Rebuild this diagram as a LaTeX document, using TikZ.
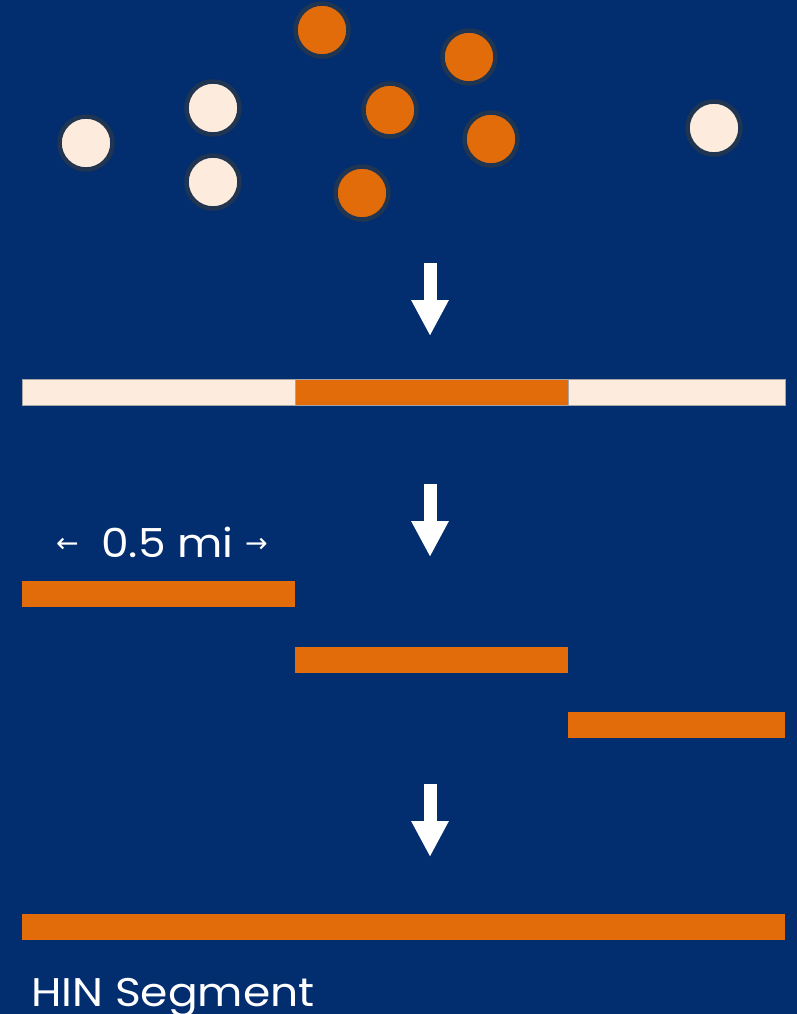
\documentclass[tikz,border=0pt]{standalone}
\usepackage{fontspec}
\setmainfont{Poppins}[FakeStretch=1.1]
\newfontfamily\arrowfont{DejaVu Sans}
\usepackage{xcolor}
\usetikzlibrary{arrows.meta}
\definecolor{bg-blue}{HTML}{022D6F}
\definecolor{hin-orange}{HTML}{E36C0A}
\definecolor{cream}{HTML}{FDEBDD}
\definecolor{rim}{HTML}{1F3552}
\tikzset{
    dot/.style = {circle, draw=rim, line width=4.5pt, minimum size=53pt, inner sep=0pt},
    dot-cream/.style = {dot, fill=cream},
    dot-orange/.style = {dot, fill=hin-orange},
    bar/.style = {rectangle, anchor=north west, inner sep=0pt, minimum height=26pt},
    bar-cream/.style = {bar, fill=cream, draw=gray!70, line width=0.4pt},
    bar-orange/.style = {bar, fill=hin-orange},
    step-arrow/.style = {white, line width=13pt, -{Triangle[width=35pt,length=36pt]}},
    label-text/.style = {text=white, font=\fontsize{40}{48}\selectfont, inner sep=0pt},
    len-arrow/.style = {text=white, font=\arrowfont\fontsize{27}{30}\selectfont, inner sep=0pt},
}

\begin{document}
\begin{tikzpicture}[x=1pt, y=-1pt]
\fill[bg-blue] (0,0) rectangle (797,1014);
\useasboundingbox (0,0) rectangle (797,1014);

% crash points
\node[dot-cream] (c1) at (86,143) {};
\node[dot-cream] (c2) at (213,108) {};
\node[dot-cream] (c3) at (213,182) {};
\node[dot-cream] (c4) at (714,128) {};
\node[dot-orange] (o1) at (322,30) {};
\node[dot-orange] (o2) at (469,57) {};
\node[dot-orange] (o3) at (390,110) {};
\node[dot-orange] (o4) at (491,139) {};
\node[dot-orange] (o5) at (362,193) {};

% arrows between stages
\coordinate (a1-top) at (430,263);
\coordinate (a1-tip) at (430,336);
\coordinate (a2-top) at (430,484);
\coordinate (a2-tip) at (430,557);
\coordinate (a3-top) at (430,784);
\coordinate (a3-tip) at (430,857);
\draw[step-arrow] (a1-top) -- (a1-tip);
\draw[step-arrow] (a2-top) -- (a2-tip);
\draw[step-arrow] (a3-top) -- (a3-tip);

% road split into pieces
\node[bar-cream, minimum width=273pt] (r1) at (22,379) {};
\node[bar-orange, minimum width=273pt] (r2) at (295,379) {};
\node[bar-cream, minimum width=217pt] (r3) at (568,379) {};
\draw[gray!70, line width=0.4pt] (r2.north west) rectangle (r2.south east);

% half mile windows
\node[label-text, anchor=base west] (len) at (101,557) {0.5 mi};
\node[len-arrow, anchor=base west] (len-l) at (56,552) {←};
\node[len-arrow, anchor=base west] (len-r) at (245,552) {→};
\node[bar-orange, minimum width=273pt] (w1) at (22,581) {};
\node[bar-orange, minimum width=273pt] (w2) at (295,647) {};
\node[bar-orange, minimum width=217pt] (w3) at (568,712) {};

% merged segment
\node[bar-orange, minimum width=763pt] (seg) at (22,914) {};
\node[label-text, anchor=base west] (seg-label) at (31,1006) {HIN Segment};
\end{tikzpicture}
\end{document}
